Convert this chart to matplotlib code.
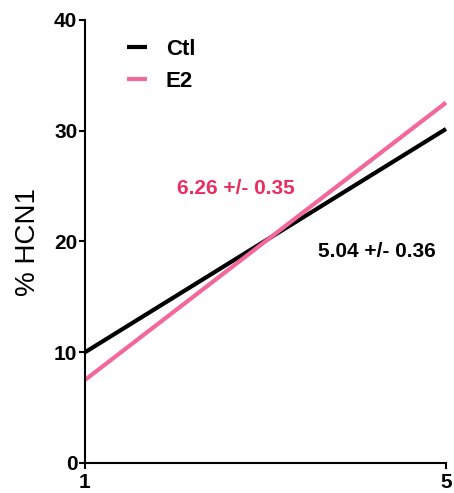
import matplotlib
matplotlib.use("Agg")
from matplotlib import pyplot as plt
import numpy as np

plt.rcParams['font.family'] = ['Liberation Sans', 'DejaVu Sans']

# regression fits per group
groups = ["Ctl", "E2"]
x_ends = [1, 5]
ctl_y = [10.0, 30.16]
e2_y = [7.5, 32.54]
slope_labels = ["5.04 +/- 0.36", "6.26 +/- 0.35"]

black = "#000000"
pink = "#F2689A"
pink_text = "#EC2C5E"

fig = plt.figure(figsize=(4.54, 4.93), dpi=100)
ax = fig.add_axes([85/454, 1 - 463/493, (446 - 85)/454, (463 - 20)/493])

ax.plot(x_ends, ctl_y, color=black, lw=3, solid_capstyle="butt", label=groups[0], clip_on=False)
ax.plot(x_ends, e2_y, color=pink, lw=3, solid_capstyle="butt", label=groups[1], clip_on=False)

ax.set_xlim(1, 5)
ax.set_ylim(0, 40)
ax.set_xticks([1, 5])
ax.set_yticks([0, 10, 20, 30, 40])

for s in ["top", "right"]:
    ax.spines[s].set_visible(False)
for s in ["left", "bottom"]:
    ax.spines[s].set_linewidth(1.5)
ax.tick_params(width=1.5, length=4, labelsize=15, pad=1.5)
ax.tick_params(axis="x", pad=3)
for lab in ax.get_xticklabels() + ax.get_yticklabels():
    lab.set_fontweight("bold")

ax.set_ylabel("% HCN1", fontsize=20, labelpad=9)

leg = ax.legend(loc="upper left", bbox_to_anchor=(0.116, 0.958), frameon=False,
                borderpad=0, borderaxespad=0,
                handlelength=0.9, handletextpad=0.85, labelspacing=0.5,
                prop={"weight": "bold", "size": 16})

ax.text(2.67, 24.8, slope_labels[1], color=pink_text, fontsize=15, fontweight="bold", ha="center", va="center")
ax.text(4.23, 19.1, slope_labels[0], color=black, fontsize=15, fontweight="bold", ha="center", va="center")

fig.savefig("out.png", dpi=100)
